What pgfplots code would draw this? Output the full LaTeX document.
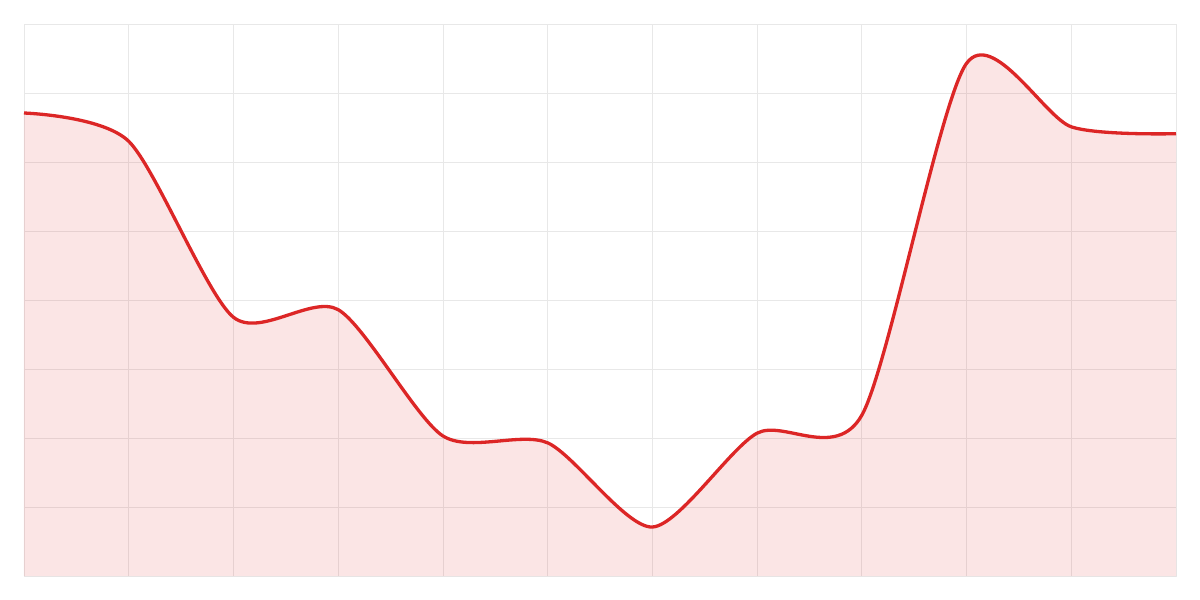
\documentclass[border=0pt]{standalone}
\usepackage{pgfplots}
\pgfplotsset{compat=1.18}
\definecolor{linered}{RGB}{220,38,38}
\definecolor{gridgray}{RGB}{232,232,232}
\pgfplotstableread{
x y
0 6.71
1 6.30
2 3.75
3 3.86
4 2.03
5 1.93
6 0.71
7 2.07
8 2.33
9 7.43
10 6.51
11 6.41
}\datatable
\begin{document}
\begin{tikzpicture}
\begin{axis}[
  scale only axis,
  width=1152bp, height=552bp,
  xmin=0, xmax=11, ymin=0, ymax=8,
  xtick={0,...,11}, ytick={0,...,8},
  xticklabels={}, yticklabels={},
  major tick length=0pt,
  grid=major,
  major grid style={draw=gridgray, line width=0.8bp},
  axis line style={draw=gridgray, line width=0.8bp},
  clip=false,
]
\addplot[draw=none, fill=linered, fill opacity=0.12, smooth, tension=0.45] table[x=x,y=y]{\datatable} \closedcycle;
\addplot[draw=linered, line width=3.3bp, smooth, tension=0.45] table[x=x,y=y]{\datatable};
\end{axis}
\path[use as bounding box] (-24bp,-24bp) rectangle (1176bp,576bp);
\end{tikzpicture}
\end{document}
